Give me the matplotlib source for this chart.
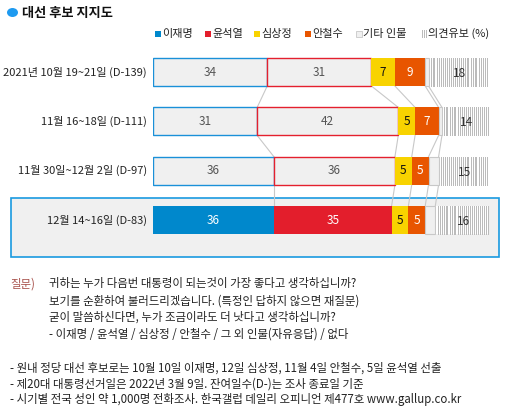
import numpy as np
import matplotlib.pyplot as plt
from matplotlib.patches import Rectangle, Circle
from matplotlib.lines import Line2D

plt.rcParams['font.family'] = ['Noto Sans CJK KR', 'DejaVu Sans']

# ---------------- Daten ------------------------------------------------------
rows = ["2021년 10월 19~21일 (D-139)", "11월 16~18일 (D-111)",
        "11월 30일~12월 2일 (D-97)", "12월 14~16일 (D-83)"]
lee = [34, 31, 36, 36]
yoon = [31, 42, 36, 35]
sim = [7, 5, 5, 5]
ahn = [9, 7, 5, 5]
other = [1, 1, 3, 3]
undecided = [18, 14, 15, 16]
legend_names = ["이재명", "윤석열", "심상정", "안철수", "기타 인물", "의견유보 (%)"]

question = ["귀하는 누가 다음번 대통령이 되는것이 가장 좋다고 생각하십니까?",
            "보기를 순환하여 불러드리겠습니다. (특정인 답하지 않으면 재질문)",
            "굳이 말씀하신다면, 누가 조금이라도 더 낫다고 생각하십니까?",
            "- 이재명 / 윤석열 / 심상정 / 안철수 / 그 외 인물(자유응답) / 없다"]
notes = ["- 원내 정당 대선 후보로는 10월 10일 이재명, 12일 심상정, 11월 4일 안철수, 5일 윤석열 선출",
         "- 제20대 대통령선거일은 2022년 3월 9일. 잔여일수(D-)는 조사 종료일 기준",
         "- 시기별 전국 성인 약 1,000명 전화조사. 한국갤럽 데일리 오피니언 제477호 www.gallup.co.kr"]

BLUE = "#0088cc"
RED = "#e31e2c"
YELLOW = "#f8d300"
ORANGE = "#e85500"
LIGHT = "#f0f0f0"
GREY = "#c8c8c8"
HATCH = "#bbbbbb"
STRIPE_LW = 0.6  # knapp unter 1 Pixel (bei 100 dpi), ohne Antialiasing

W, H = 505, 413
fig = plt.figure(figsize=(W / 100, H / 100), dpi=100)
fig.patch.set_facecolor("white")

# Achse: x = Prozent (0..100 -> Pixel 153..489), y = Pixel von oben
ax = fig.add_axes([153 / W, 0, 336 / W, 1])
ax.set_xlim(0, 100)
ax.set_ylim(H, 0)
ax.axis("off")

yc = 72 + np.arange(len(rows)) * 49.4
bh = 28
last = len(rows) - 1

# Hervorhebung letzte Zeile
fig.add_artist(Rectangle((11 / W, 1 - 256.5 / H), 488 / W, 58.5 / H,
                         transform=fig.transFigure, facecolor=LIGHT,
                         edgecolor="#1a9ae0", linewidth=1.2, zorder=-1))

segs = np.array([lee, yoon, sim, ahn, other, undecided], dtype=float)
cum = np.vstack([np.zeros(len(rows)), np.cumsum(segs, axis=0)])


def stripes(x0, x1, y):
    # senkrechte 1-px-Streifen im Abstand von 2 px (Schraffur "Meinung vorbehalten")
    p0 = ax.transData.transform((x0, y))[0]
    p1 = ax.transData.transform((x1, y))[0]
    px = np.arange(np.ceil(p0) + 0.5, p1, 2.0)
    xs = ax.transData.inverted().transform(np.column_stack([px, np.zeros_like(px)]))[:, 0]
    ax.vlines(xs, y - bh / 2, y + bh / 2, colors=HATCH, linewidth=STRIPE_LW,
              antialiased=False, zorder=4)


for i in range(len(rows)):
    y = yc[i]
    hi = i == last
    # Lee / Yoon
    if hi:
        ax.barh(y, lee[i], left=0, height=bh, color=BLUE, zorder=3)
        ax.barh(y, yoon[i], left=cum[1, i], height=bh, color=RED, zorder=3)
    else:
        ax.barh(y, lee[i], left=0, height=bh, color=LIGHT, edgecolor="#1a90d8",
                linewidth=1.0, zorder=3)
        ax.barh(y, yoon[i], left=cum[1, i], height=bh, color=LIGHT,
                edgecolor="#e4202e", linewidth=1.0, zorder=3)
    ax.barh(y, sim[i], left=cum[2, i], height=bh, color=YELLOW, zorder=3)
    ax.barh(y, ahn[i], left=cum[3, i], height=bh, color=ORANGE, zorder=3)
    ax.barh(y, other[i], left=cum[4, i], height=bh, color=LIGHT,
            edgecolor=GREY, linewidth=0.8, zorder=3)
    ax.barh(y, undecided[i], left=cum[5, i] + 0.3, height=bh, color="white",
            linewidth=0, zorder=3)
    stripes(cum[5, i] + 0.3, cum[6, i] + 0.3, y)

    txtc = "white" if hi else "#555555"
    ax.text(lee[i] / 2, y, str(lee[i]), ha="center", va="center",
            fontsize=8.5, color=txtc, zorder=5)
    ax.text(cum[1, i] + yoon[i] / 2, y, str(yoon[i]), ha="center", va="center",
            fontsize=8.5, color=txtc, zorder=5)
    ax.text(cum[2, i] + sim[i] / 2, y, str(sim[i]), ha="center", va="center",
            fontsize=8.5, color="#111111", zorder=5)
    ax.text(cum[3, i] + ahn[i] / 2, y, str(ahn[i]), ha="center", va="center",
            fontsize=8.5, color="white", zorder=5)
    ax.text(cum[5, i] + 0.3 + undecided[i] / 2, y + 1.5, str(undecided[i]),
            ha="center", va="center", fontsize=8.5, color="#333333", zorder=5)

    fig.text(147 / W, 1 - y / H, rows[i], ha="right", va="center",
             fontsize=8, color="#222222")

# Verbindungslinien
for i in range(len(rows) - 1):
    for k in range(1, 6):
        ax.plot([cum[k, i], cum[k, i + 1]],
                [yc[i] + bh / 2, yc[i + 1] - bh / 2],
                color=GREY, linewidth=0.8, zorder=2)

# Titel
fig.add_artist(Circle((12.5 / W, 1 - 12.5 / H), 5.5 / W, transform=fig.transFigure,
                      facecolor="#1e9af0", edgecolor="none"))
fig.text(22 / W, 1 - 12.5 / H, "대선 후보 지지도", ha="left", va="center",
         fontsize=9.5, fontweight="bold", color="#111111")

# Legende
leg_x = [155, 205, 254, 305, 356, 421]
leg_fc = [BLUE, RED, YELLOW, ORANGE, LIGHT, "white"]
for j, name in enumerate(legend_names):
    x0 = leg_x[j]
    if j == 5:
        for dx in (0.5, 2.5, 4.5):
            fig.add_artist(Line2D([(x0 + dx) / W] * 2, [1 - 37 / H, 1 - 30 / H],
                                  transform=fig.transFigure, color=HATCH,
                                  linewidth=STRIPE_LW, antialiased=False))
    else:
        fig.add_artist(Rectangle((x0 / W, 1 - 37 / H), 6 / W, 6 / H,
                                 transform=fig.transFigure, facecolor=leg_fc[j],
                                 edgecolor=GREY if j == 4 else "none", linewidth=0.6))
    fig.text((x0 + 7) / W, 1 - 33.5 / H, name, ha="left", va="center",
             fontsize=8, color="#222222")

# Fragetext und Hinweise
fig.text(10 / W, 1 - 284 / H, "질문)", ha="left", va="center",
         fontsize=8.25, color="#a8524c")
for j, line in enumerate(question):
    fig.text(49 / W, 1 - (284 + j * 16.8) / H, line, ha="left", va="center",
             fontsize=8.25, color="#222222")
for j, line in enumerate(notes):
    fig.text(10 / W, 1 - (368 + j * 16) / H, line, ha="left", va="center",
             fontsize=8.25, color="#222222")

fig.savefig("out.png", dpi=100)
